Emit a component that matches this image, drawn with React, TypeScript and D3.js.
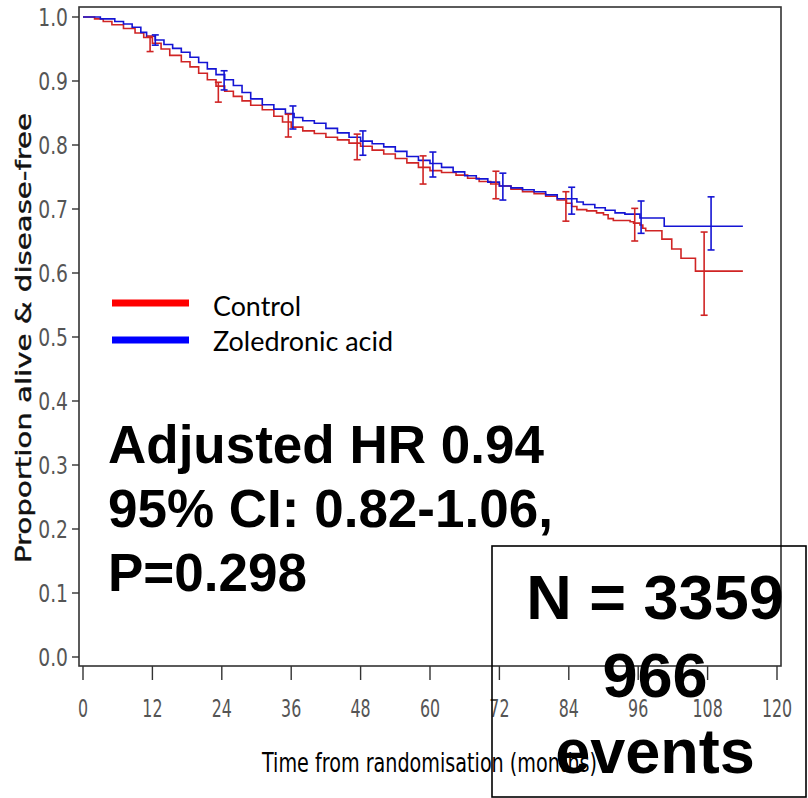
import React from "react";
import * as d3 from "d3";

// Control arm (step function: time in months, survival proportion)
const controlTimes = [0, 2, 3.5, 5, 7, 9, 10.5, 12, 13.5, 15, 17, 18.5, 20, 21.5, 23, 24.5, 26, 27.5, 29, 31, 33, 34.5, 36, 38, 40, 42, 44, 46, 48, 50, 52, 54, 56, 58, 60, 62, 64.5, 66.5, 68.5, 70.5, 72, 74, 76, 78, 80, 82, 83.6, 84.5, 85.4, 87.1, 88.8, 90.0, 90.8, 91.7, 94.6, 95.2, 96.3, 96.8, 97.3, 100.1, 101.8, 103.4, 105.9, 114.1];
const controlSurv = [1.0, 0.997, 0.993, 0.988, 0.982, 0.975, 0.968, 0.959, 0.95, 0.94, 0.93, 0.922, 0.912, 0.902, 0.892, 0.884, 0.876, 0.869, 0.862, 0.855, 0.845, 0.836, 0.828, 0.822, 0.818, 0.812, 0.808, 0.803, 0.798, 0.792, 0.786, 0.779, 0.772, 0.765, 0.76, 0.757, 0.753, 0.748, 0.743, 0.739, 0.736, 0.731, 0.727, 0.724, 0.72, 0.714, 0.709, 0.704, 0.699, 0.697, 0.694, 0.691, 0.685, 0.682, 0.68, 0.678, 0.675, 0.67, 0.666, 0.653, 0.6375, 0.623, 0.603, 0.603];

// Zoledronic acid arm
const zolTimes = [0, 3, 5.5, 7, 8.5, 10, 11, 12.5, 14, 15.5, 17, 18.5, 20, 21.5, 23, 24.5, 26, 27.5, 29, 31, 33, 35, 36.5, 38, 40, 42, 44, 46, 48, 50, 52, 54, 56, 58, 60, 62, 64, 66, 68, 70, 72, 74, 76, 78, 80, 82, 85.4, 86.5, 88.5, 90.3, 92, 93.7, 96.3, 100.5, 114.1];
const zolSurv = [1.0, 0.997, 0.993, 0.989, 0.984, 0.976, 0.97, 0.964, 0.957, 0.951, 0.945, 0.937, 0.929, 0.919, 0.91, 0.902, 0.893, 0.882, 0.872, 0.863, 0.856, 0.849, 0.843, 0.838, 0.834, 0.826, 0.819, 0.812, 0.806, 0.802, 0.797, 0.79, 0.782, 0.776, 0.771, 0.765, 0.758, 0.752, 0.747, 0.742, 0.736, 0.733, 0.73, 0.727, 0.722, 0.716, 0.711, 0.707, 0.702, 0.698, 0.694, 0.692, 0.686, 0.673, 0.673];

// Confidence interval bars
const controlCITimes = [11.6, 23.4, 35.5, 47.4, 58.8, 71.4, 83.5, 95.4, 107.4];
const controlCILow = [0.946, 0.867, 0.8125, 0.777, 0.739, 0.716, 0.681, 0.65, 0.534];
const controlCIHigh = [0.97, 0.898, 0.848, 0.817, 0.783, 0.759, 0.727, 0.701, 0.664];
const zolCITimes = [12.5, 24.4, 36.3, 48.4, 60.5, 72.6, 84.5, 96.5, 108.6];
const zolCILow = [0.956, 0.886, 0.825, 0.784, 0.75, 0.714, 0.692, 0.662, 0.636];
const zolCIHigh = [0.972, 0.916, 0.861, 0.822, 0.789, 0.756, 0.734, 0.7125, 0.719];

const xTicks = [0, 12, 24, 36, 48, 60, 72, 84, 96, 108, 120];
const yTicks = [0, 0.1, 0.2, 0.3, 0.4, 0.5, 0.6, 0.7, 0.8, 0.9, 1.0];
const legendLabels = ["Control", "Zoledronic acid"];
const annotationLines = ["Adjusted HR 0.94", "95% CI: 0.82-1.06,", "P=0.298"];
const boxLines = ["N = 3359", "966", "events"];

const RED = "#d02424";
const BLUE = "#1414d4";

export default function App() {
  const x = d3.scaleLinear().domain([0, 120]).range([83, 777]);
  const y = d3.scaleLinear().domain([0, 1]).range([657, 17]);
  const line = d3
    .line<[number, number]>()
    .x((d) => x(d[0]))
    .y((d) => y(d[1]))
    .curve(d3.curveStepAfter);
  const ctrl = controlTimes.map((t, i) => [t, controlSurv[i]] as [number, number]);
  const zol = zolTimes.map((t, i) => [t, zolSurv[i]] as [number, number]);

  const ciBars = (times: number[], lo: number[], hi: number[], color: string, key: string) =>
    times.map((t, i) => {
      const cx = x(t);
      return (
        <g key={key + i} stroke={color} strokeWidth={1.6}>
          <line x1={cx} x2={cx} y1={y(lo[i])} y2={y(hi[i])} />
          <line x1={cx - 3.5} x2={cx + 3.5} y1={y(lo[i])} y2={y(lo[i])} />
          <line x1={cx - 3.5} x2={cx + 3.5} y1={y(hi[i])} y2={y(hi[i])} />
        </g>
      );
    });

  return (
    <svg width={808} height={798} style={{ position: "absolute", left: 0, top: 0, background: "#fff" }}>
      {/* frame */}
      <rect x={79} y={7} width={702} height={659} fill="none" stroke="#333" strokeWidth={1.6} />

      {/* y ticks */}
      {yTicks.map((v) => (
        <g key={"yt" + v}>
          <line x1={72} x2={79} y1={y(v)} y2={y(v)} stroke="#333" strokeWidth={1.4} />
          <text
            transform={`translate(68,${y(v) + 8.5}) scale(0.78,1)`}
            textAnchor="end"
            fontFamily="DejaVu Sans"
            fontSize={24}
            fill="#555"
          >
            {v.toFixed(1)}
          </text>
        </g>
      ))}

      {/* x ticks */}
      {xTicks.map((t) => (
        <g key={"xt" + t}>
          <line x1={x(t)} x2={x(t)} y1={666} y2={680} stroke="#333" strokeWidth={1.4} />
          <text
            transform={`translate(${x(t)},717) scale(0.66,1)`}
            textAnchor="middle"
            fontFamily="DejaVu Sans"
            fontSize={24}
            fill="#555"
          >
            {t}
          </text>
        </g>
      ))}

      {/* axis titles */}
      <text
        x={262}
        y={772}
        fontFamily="DejaVu Sans"
        fontSize={26}
        textLength={335}
        lengthAdjust="spacingAndGlyphs"
        fill="#000"
      >
        Time from randomisation (months)
      </text>
      <text
        transform="translate(31,563) rotate(-90)"
        fontFamily="DejaVu Sans"
        fontSize={22}
        textLength={450}
        lengthAdjust="spacingAndGlyphs"
        fill="#111"
        stroke="#111"
        strokeWidth={0.4}
      >
        Proportion alive &amp; disease-free
      </text>

      {/* curves */}
      <path d={line(ctrl) || ""} fill="none" stroke={RED} strokeWidth={1.6} />
      <path d={line(zol) || ""} fill="none" stroke={BLUE} strokeWidth={1.6} />
      {ciBars(controlCITimes, controlCILow, controlCIHigh, RED, "c")}
      {ciBars(zolCITimes, zolCILow, zolCIHigh, BLUE, "z")}

      {/* legend */}
      <line x1={112} x2={189} y1={303} y2={303} stroke="#ff0000" strokeWidth={7} />
      <line x1={112} x2={189} y1={340} y2={340} stroke="#0000ff" strokeWidth={7} />
      <text x={213} y={316} fontFamily="Lato" fontSize={26} textLength={88} lengthAdjust="spacingAndGlyphs" fill="#000">
        {legendLabels[0]}
      </text>
      <text x={213} y={351} fontFamily="Lato" fontSize={26} textLength={180} lengthAdjust="spacingAndGlyphs" fill="#000">
        {legendLabels[1]}
      </text>

      {/* annotation */}
      {annotationLines.map((s, i) => (
        <text
          key={"a" + i}
          x={108}
          y={463 + i * 64}
          fontFamily="Liberation Sans"
          fontWeight="bold"
          fontSize={53}
          fill="#000"
        >
          {s}
        </text>
      ))}

      {/* N box */}
      <rect x={492} y={546} width={314} height={251} fill="none" stroke="#000" strokeWidth={1.6} />
      {boxLines.map((s, i) => (
        <text
          key={"b" + i}
          x={655}
          y={[619, 697, 773][i]}
          textAnchor="middle"
          fontFamily="Liberation Sans"
          fontWeight="bold"
          fontSize={63}
          fill="#000"
        >
          {s}
        </text>
      ))}
    </svg>
  );
}
